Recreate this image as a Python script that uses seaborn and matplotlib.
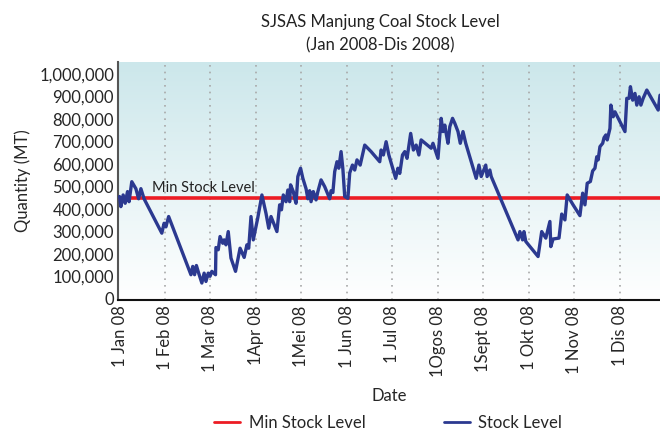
import numpy as np
import pandas as pd
import matplotlib
matplotlib.use("Agg")
import matplotlib.pyplot as plt
import seaborn as sns
from matplotlib.colors import LinearSegmentedColormap
from matplotlib.ticker import FuncFormatter
from matplotlib.lines import Line2D

# ---- data (x = months since 1 Jan 2008, value = stock in MT) ----
month_pos = [0.00, 0.03, 0.08, 0.125, 0.176, 0.21, 0.27, 0.36, 0.42, 0.47, 0.54,
             0.93, 0.98, 1.02, 1.08, 1.57, 1.61, 1.65, 1.69, 1.74, 1.81, 1.86, 1.90,
             1.95, 1.99, 2.03, 2.11, 2.12, 2.17, 2.21, 2.27, 2.30, 2.34, 2.39, 2.45,
             2.55, 2.65, 2.74, 2.80, 2.84, 2.89, 2.94, 3.04, 3.13, 3.22, 3.28, 3.33,
             3.46, 3.52, 3.56, 3.60, 3.66, 3.70, 3.74, 3.76, 3.82, 3.85, 3.88, 3.92,
             3.98, 4.03, 4.10, 4.14, 4.18, 4.21, 4.26, 4.32, 4.36, 4.43, 4.51, 4.62,
             4.65, 4.69, 4.73, 4.78, 4.82, 4.87, 4.91, 4.95, 5.02, 5.06, 5.12, 5.17,
             5.22, 5.29, 5.39, 5.53, 5.72, 5.75, 5.80, 5.86, 5.92, 6.07, 6.12, 6.16,
             6.22, 6.27, 6.32, 6.40, 6.46, 6.52, 6.58, 6.63, 6.85, 6.89, 7.00, 7.07,
             7.11, 7.15, 7.18, 7.22, 7.26, 7.32, 7.37, 7.44, 7.49, 7.55, 7.61, 7.84,
             7.90, 7.95, 8.05, 8.08, 8.14, 8.17, 8.76, 8.80, 8.86, 8.89, 8.93, 9.20,
             9.28, 9.37, 9.46, 9.48, 9.53, 9.66, 9.72, 9.79, 9.84, 9.97, 10.12, 10.18,
             10.23, 10.28, 10.35, 10.40, 10.45, 10.49, 10.52, 10.56, 10.62, 10.65,
             10.69, 10.72, 10.78, 10.80, 10.85, 10.89, 11.11, 11.15, 11.20, 11.23,
             11.28, 11.33, 11.37, 11.42, 11.46, 11.51, 11.59, 11.84, 11.88]
stock_k = [455, 410, 462, 425, 477, 432, 521, 490, 445, 490, 445,
           292, 336, 320, 366, 107, 144, 107, 148, 114, 70, 114, 77,
           114, 100, 122, 107, 228, 218, 277, 247, 262, 240, 299, 181,
           122, 225, 184, 240, 225, 366, 262, 361, 462, 380, 314, 366,
           299, 418, 396, 462, 432, 484, 432, 507, 477, 447, 425, 544,
           581, 536, 490, 445, 481, 432, 477, 440, 477, 529, 499, 445,
           481, 473, 566, 610, 581, 655, 577, 455, 447, 560, 595, 573,
           618, 595, 684, 655, 610, 662, 640, 699, 640, 536, 581, 558,
           640, 655, 625, 736, 662, 684, 640, 707, 670, 692, 625, 803,
           744, 773, 736, 692, 766, 803, 781, 744, 692, 744, 692, 536,
           595, 544, 595, 544, 573, 544, 262, 299, 262, 299, 255, 188,
           299, 270, 344, 232, 266, 270, 377, 351, 462, 418, 370, 470,
           418, 514, 522, 569, 581, 632, 618, 677, 692, 717,
           729, 707, 758, 862, 810, 832, 744, 892, 892, 944,
           884, 914, 862, 899, 862, 892, 929, 840, 906]
stock = [v * 1000 for v in stock_k]
min_stock = 450000
tick_labels = ["1 Jan 08", "1 Feb 08", "1 Mar 08", "1Apr 08", "1Mei 08", "1 Jun 08",
               "1 Jul 08", "1Ogos 08", "1Sept 08", "1 Okt 08", "1 Nov 08", "1 Dis 08"]
y_ticks = [0, 100000, 200000, 300000, 400000, 500000, 600000, 700000, 800000,
           900000, 1000000]

sns.set_theme(style="white")
plt.rcParams["font.family"] = ["Lato", "DejaVu Sans"]

RED = "#ec1c24"
BLUE = "#2b3990"

fig = plt.figure(figsize=(6.6, 4.41), dpi=100)
ax = fig.add_axes([0.179, 0.32, 0.821, 0.539])

xmin, xmax = -0.03, 11.88
ymin, ymax = -5000, 1053000

# gradient background
cmap = LinearSegmentedColormap.from_list("bg", ["#ffffff", "#cce7eb"])
grad = np.linspace(0, 1, 256).reshape(-1, 1)
ax.imshow(grad, extent=[0, 1, 0, 1], transform=ax.transAxes, cmap=cmap,
          aspect="auto", origin="lower", zorder=0)

# vertical dotted grid
for m in range(1, 12):
    ax.axvline(m, color="#a8a8a8", linestyle=(0, (1, 3)), linewidth=1.2, zorder=1)

df = pd.DataFrame({"month": month_pos, "stock": stock})
ax.axhline(min_stock, color=RED, linewidth=2.6, zorder=3)
sns.lineplot(data=df, x="month", y="stock", ax=ax, color=BLUE, linewidth=2.4,
             zorder=4, estimator=None, sort=False, legend=False)

ax.text(0.72, min_stock + 10000, "Min Stock Level", fontsize=10.5, color="#222222",
        ha="left", va="bottom", zorder=5)

ax.set_xlim(xmin, xmax)
ax.set_ylim(ymin, ymax)
ax.set_xticks(range(12))
ax.set_xticklabels(tick_labels, rotation=90, fontsize=12)
ax.set_yticks(y_ticks)
ax.yaxis.set_major_formatter(FuncFormatter(lambda v, p: f"{int(v):,}"))
ax.tick_params(axis="y", labelsize=12, length=0, pad=3)
ax.tick_params(axis="x", length=0, pad=4)
ax.set_xlabel("Date", fontsize=12, labelpad=8)
ax.set_ylabel("Quantity (MT)", fontsize=12, labelpad=6)
ax.grid(False)

for s in ["top", "right"]:
    ax.spines[s].set_visible(False)
ax.spines["left"].set_color("#555555")
ax.spines["left"].set_linewidth(1.5)
ax.spines["bottom"].set_color("#111111")
ax.spines["bottom"].set_linewidth(1.5)

fig.text(0.576, 1 - 22 / 441, "SJSAS Manjung Coal Stock Level", ha="center",
         va="center", fontsize=12, color="#222222")
fig.text(0.576, 1 - 45 / 441, "(Jan 2008-Dis 2008)", ha="center",
         va="center", fontsize=12, color="#222222")

handles = [Line2D([], [], color=RED, linewidth=2),
           Line2D([], [], color=BLUE, linewidth=2)]
fig.legend(handles, ["Min Stock Level", "Stock Level"], loc="lower center",
           bbox_to_anchor=(0.588, -0.012), ncol=2, frameon=False, fontsize=12,
           handlelength=1.55, columnspacing=4.7, handletextpad=0.5)

fig.savefig("out.png", dpi=100)
